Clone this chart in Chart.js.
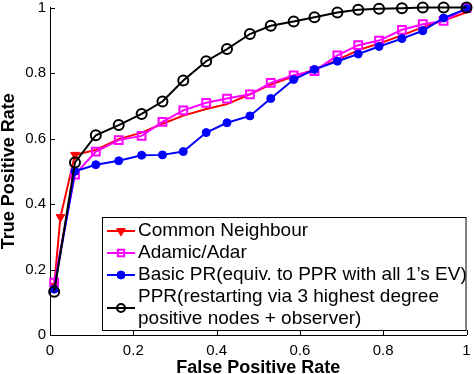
<!DOCTYPE html>
<html>
<head>
<meta charset="utf-8">
<title>ROC curves</title>
<script src="https://cdn.jsdelivr.net/npm/chart.js@4/dist/chart.umd.min.js"></script>
<style>
  html, body { margin: 0; padding: 0; background: #fff; }
  #wrap { width: 474px; height: 374px; position: relative; }
</style>
</head>
<body>
<div id="wrap"><canvas id="rocChart"></canvas></div>
<script>
// Data
const fprGrid = [0.01, 0.06, 0.11, 0.165, 0.22, 0.27, 0.32, 0.375, 0.425, 0.48, 0.53, 0.585, 0.635, 0.69, 0.74, 0.79, 0.845, 0.895, 0.945, 1.0];
const fprCommon = [0.01, 0.025, 0.06, 0.11, 0.165, 0.22, 0.27, 0.32, 0.375, 0.425, 0.48, 0.53, 0.585, 0.635, 0.69, 0.74, 0.79, 0.845, 0.895, 0.945, 1.0];
const tprCommon = [0.15, 0.36, 0.55, 0.565, 0.598, 0.618, 0.645, 0.67, 0.69, 0.705, 0.735, 0.765, 0.79, 0.81, 0.84, 0.87, 0.89, 0.915, 0.94, 0.96, 0.985];
const tprAdamic = [0.16, 0.49, 0.56, 0.595, 0.608, 0.651, 0.686, 0.709, 0.722, 0.735, 0.77, 0.793, 0.806, 0.854, 0.885, 0.899, 0.932, 0.949, 0.959, 0.998];
const tprBasicPR = [0.14, 0.50, 0.52, 0.532, 0.549, 0.55, 0.56, 0.618, 0.648, 0.669, 0.722, 0.78, 0.811, 0.836, 0.858, 0.881, 0.905, 0.929, 0.968, 0.996];
const tprPPR = [0.132, 0.527, 0.61, 0.641, 0.675, 0.713, 0.777, 0.836, 0.873, 0.919, 0.944, 0.957, 0.97, 0.985, 0.993, 0.996, 0.998, 1.0, 1.0, 1.0];
const seriesNames = [
    'Common Neighbour',
    'Adamic/Adar',
    'Basic PR(equiv. to PPR with all 1\u2019s EV)',
    'PPR(restarting via 3 highest degree\npositive nodes + observer)'
];
const tickValues = [0, 0.2, 0.4, 0.6, 0.8, 1];

const FONT = '"Liberation Sans", Arial, Helvetica, sans-serif';

function toPoints(xs, ys) {
    return xs.map((x, i) => ({ x: x, y: ys[i] }));
}

// MATLAB style: ticks pointing inward, no box
const inwardTicks = {
    id: 'inwardTicks',
    afterDraw(chart) {
        const ctx = chart.ctx;
        const xs = chart.scales.x, ys = chart.scales.y;
        const len = 5;
        ctx.save();
        ctx.strokeStyle = '#000';
        ctx.lineWidth = 1;
        ctx.beginPath();
        xs.ticks.forEach(t => {
            const px = Math.round(xs.getPixelForValue(t.value)) + 0.5;
            ctx.moveTo(px, ys.bottom);
            ctx.lineTo(px, ys.bottom - len);
        });
        ys.ticks.forEach(t => {
            const py = Math.round(ys.getPixelForValue(t.value)) + 0.5;
            ctx.moveTo(xs.left, py);
            ctx.lineTo(xs.left + len, py);
        });
        ctx.stroke();
        ctx.restore();
    }
};

// legend box in the lower right, drawn like the MATLAB one
const boxLegend = {
    id: 'boxLegend',
    afterDraw(chart) {
        const ctx = chart.ctx;
        const area = chart.chartArea;
        const left = 102, top = 217;
        const right = area.right, bottom = 331;
        ctx.save();
        ctx.fillStyle = '#fff';
        ctx.fillRect(left, top, right - left, bottom - top);
        ctx.strokeStyle = '#000';
        ctx.lineWidth = 1;
        ctx.strokeRect(left + 0.5, top + 0.5, right - left - 1, bottom - top - 1);

        ctx.font = '19px ' + FONT;
        ctx.textBaseline = 'middle';
        ctx.textAlign = 'left';
        let y = top + 14;
        const rowH = 22;
        chart.data.datasets.forEach((ds, i) => {
            const lines = seriesNames[i].split('\n');
            const midY = y + (lines.length - 1) * rowH / 2;
            ctx.strokeStyle = ds.borderColor;
            ctx.lineWidth = ds.borderWidth;
            ctx.beginPath();
            ctx.moveTo(107, midY);
            ctx.lineTo(135, midY);
            ctx.stroke();
            ctx.fillStyle = ds.pointBackgroundColor;
            ctx.strokeStyle = ds.pointBorderColor;
            ctx.lineWidth = ds.pointBorderWidth;
            Chart.helpers.drawPoint(ctx, {
                pointStyle: ds.pointStyle,
                rotation: ds.pointRotation || 0,
                radius: ds.legendRadius,
                borderWidth: ds.pointBorderWidth
            }, 121, midY);
            ctx.fillStyle = '#000';
            lines.forEach((ln, k) => ctx.fillText(ln, 138, y + k * rowH));
            y += lines.length * rowH;
        });
        ctx.restore();
    }
};

const ctx = document.getElementById('rocChart');

new Chart(ctx, {
    type: 'line',
    data: {
        datasets: [{
            label: seriesNames[0],
            data: toPoints(fprCommon, tprCommon),
            borderColor: '#ff0000',
            borderWidth: 2,
            pointStyle: 'triangle',
            pointRotation: 180,
            // markers further along sit under the Adamic/Adar squares
            pointRadius: fprCommon.map((x, i) => i < 3 ? 5 : 0),
            legendRadius: 5,
            pointBackgroundColor: '#ff0000',
            pointBorderColor: '#ff0000',
            pointBorderWidth: 1,
            order: 4
        }, {
            label: seriesNames[1],
            data: toPoints(fprGrid, tprAdamic),
            borderColor: '#ff00ff',
            borderWidth: 2,
            pointStyle: 'rect',
            pointRadius: 5.5,
            legendRadius: 4.5,
            pointBackgroundColor: 'rgba(0,0,0,0)',
            pointBorderColor: '#ff00ff',
            pointBorderWidth: 2,
            order: 3
        }, {
            label: seriesNames[2],
            data: toPoints(fprGrid, tprBasicPR),
            borderColor: '#0000ff',
            borderWidth: 2,
            pointStyle: 'circle',
            pointRadius: 4,
            legendRadius: 4,
            pointBackgroundColor: '#0000ff',
            pointBorderColor: '#0000ff',
            pointBorderWidth: 1,
            order: 2
        }, {
            label: seriesNames[3],
            data: toPoints(fprGrid, tprPPR),
            borderColor: '#000000',
            borderWidth: 2,
            pointStyle: 'circle',
            pointRadius: 5,
            legendRadius: 4,
            pointBackgroundColor: 'rgba(0,0,0,0)',
            pointBorderColor: '#000000',
            pointBorderWidth: 2,
            order: 1
        }]
    },
    options: {
        responsive: true,
        maintainAspectRatio: false,
        devicePixelRatio: 1,
        animation: false,
        clip: false,
        layout: { padding: { top: 0, right: 0, left: 0, bottom: 0 } },
        elements: { line: { tension: 0 } },
        plugins: {
            legend: { display: false },
            tooltip: { enabled: false }
        },
        scales: {
            x: {
                type: 'linear',
                min: 0,
                max: 1,
                afterFit: (s) => { s.height = 39; s.paddingRight = 7; },
                afterBuildTicks: (s) => { s.ticks = tickValues.map(v => ({ value: v })); },
                grid: { drawOnChartArea: false, drawTicks: false },
                border: { display: true, color: '#000', width: 1 },
                ticks: {
                    color: '#000',
                    padding: 7,
                    maxRotation: 0,
                    font: { family: FONT, size: 15 },
                    callback: (v) => String(v)
                },
                title: {
                    display: true,
                    text: 'False Positive Rate',
                    color: '#000',
                    padding: { top: 0, bottom: -3 },
                    font: { family: FONT, size: 18, weight: 'bold', lineHeight: 1 }
                }
            },
            y: {
                type: 'linear',
                min: 0,
                max: 1,
                afterFit: (s) => { s.width = 50; s.paddingTop = 6; },
                afterBuildTicks: (s) => { s.ticks = tickValues.map(v => ({ value: v })); },
                grid: { drawOnChartArea: false, drawTicks: false },
                border: { display: true, color: '#000', width: 1 },
                ticks: {
                    color: '#000',
                    padding: 4,
                    font: { family: FONT, size: 15 },
                    callback: (v) => String(v)
                },
                title: {
                    display: true,
                    text: 'True Positive Rate',
                    color: '#000',
                    padding: { top: 0, bottom: 0 },
                    font: { family: FONT, size: 18, weight: 'bold', lineHeight: 1 }
                }
            }
        }
    },
    plugins: [inwardTicks, boxLegend]
});
</script>
</body>
</html>
